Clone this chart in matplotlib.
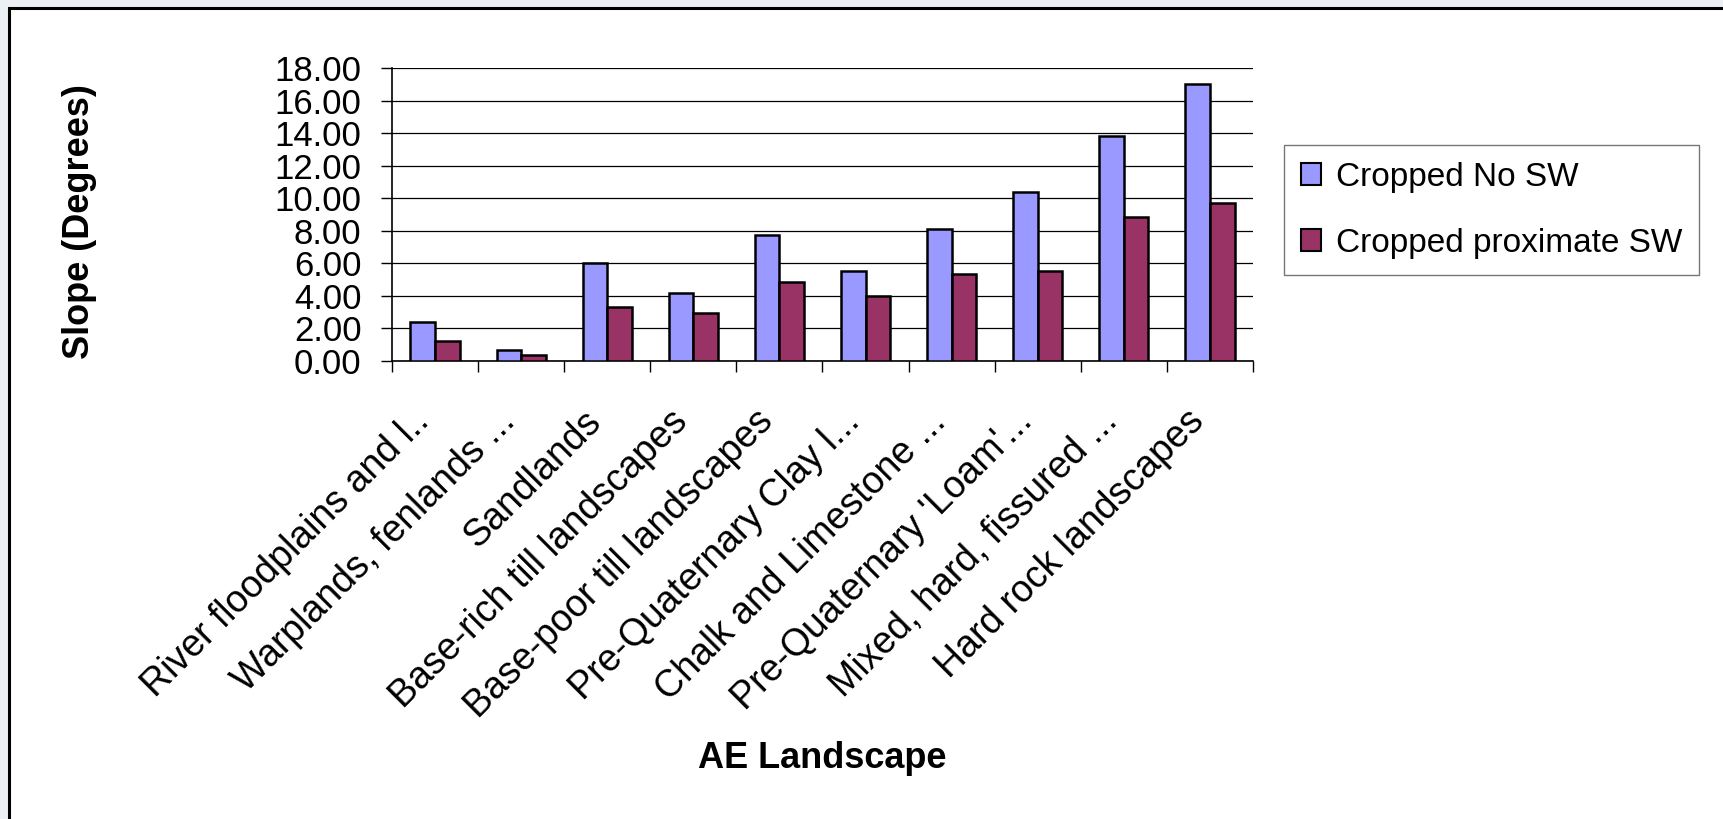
import matplotlib
matplotlib.use("Agg")
import matplotlib.pyplot as plt
from matplotlib.patches import Rectangle, Patch
import numpy as np

categories = [
    "River floodplains and l..",
    "Warplands, fenlands ...",
    "Sandlands",
    "Base-rich till landscapes",
    "Base-poor till landscapes",
    "Pre-Quaternary Clay l...",
    "Chalk and Limestone ...",
    "Pre-Quaternary 'Loam'...",
    "Mixed, hard, fissured ...",
    "Hard rock landscapes",
]
no_sw = [2.42, 0.69, 6.05, 4.15, 7.77, 5.54, 8.13, 10.38, 13.84, 16.99]
proximate_sw = [1.20, 0.38, 3.30, 2.95, 4.85, 3.99, 5.36, 5.52, 8.84, 9.69]
series_names = ["Cropped No SW", "Cropped proximate SW"]
y_ticks = [0, 2, 4, 6, 8, 10, 12, 14, 16, 18]

plt.rcParams["font.family"] = ["Liberation Sans", "DejaVu Sans"]

W, H = 1724, 819
fig = plt.figure(figsize=(W / 100, H / 100), dpi=100)
fig.patch.set_facecolor("#eceff3")

# white panel with a black frame on the left and top
fig.patches.append(Rectangle((9.5 / W, -0.1), 1.2, 1.1 - 8.5 / H,
                             transform=fig.transFigure, facecolor="white",
                             edgecolor="black", linewidth=2.2, zorder=-10))

ax = fig.add_axes([392 / W, 1 - 361 / H, (1253 - 392) / W, (361 - 68) / H])
ax.set_facecolor("white")

x = np.arange(len(categories))
bw = 0.286
ax.bar(x - bw / 2, no_sw, bw, color="#9999ff", edgecolor="black", linewidth=1.8, zorder=3)
ax.bar(x + bw / 2, proximate_sw, bw, color="#993366", edgecolor="black", linewidth=1.8, zorder=3)

ax.set_xlim(-0.5, len(categories) - 0.5)
ax.set_ylim(0, 18)
ax.set_yticks(y_ticks)
ax.set_yticklabels([f"{v:.2f}" for v in y_ticks])
ax.yaxis.grid(True, color="black", linewidth=0.9, zorder=0)
ax.set_axisbelow(True)

# group boundaries carry the ticks; the rotated names hang from invisible
# minor ticks set a little left of each group so the text ends under the bars
ax.set_xticks(np.arange(len(categories) + 1) - 0.5)
ax.set_xticklabels([])
ax.set_xticks(x - 0.28, minor=True)
ax.set_xticklabels(categories, minor=True, rotation=45, ha="right",
                   rotation_mode="anchor", fontsize=27)
ax.tick_params(axis="x", which="major", length=8, width=1, color="black")
ax.tick_params(axis="x", which="minor", length=0, pad=30.5)
ax.tick_params(axis="y", length=8, width=1, pad=14, labelsize=25)

for side in ("top", "right"):
    ax.spines[side].set_visible(False)
for side in ("left", "bottom"):
    ax.spines[side].set_linewidth(1.2)

fig.text(80 / W, 1 - 222 / H, "Slope (Degrees)", rotation=90, ha="center",
         va="center", fontsize=26, fontweight="bold")
fig.text(822 / W, 1 - 759 / H, "AE Landscape", ha="center", va="center",
         fontsize=26, fontweight="bold")

handles = [Patch(facecolor="#9999ff", edgecolor="black", linewidth=1.5),
           Patch(facecolor="#993366", edgecolor="black", linewidth=1.5)]
leg = fig.legend(handles, series_names, loc="upper left",
                 bbox_to_anchor=(1284 / W, 1 - 145 / H), fontsize=24,
                 frameon=True, fancybox=False, handlelength=0.6,
                 handleheight=0.6, handletextpad=0.45, labelspacing=1.05,
                 borderpad=0.5, borderaxespad=0)
leg.get_frame().set_edgecolor("#555555")
leg.get_frame().set_linewidth(1.0)

fig.savefig("out.png", dpi=100)
